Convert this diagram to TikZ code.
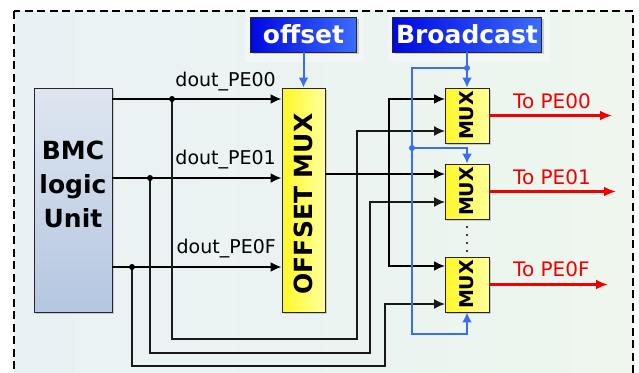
\documentclass[tikz,border=0pt]{standalone}
\usepackage{fontspec}
\setmainfont{DejaVu Sans}
\usetikzlibrary{arrows.meta,shadows}

\definecolor{bgleft}{HTML}{E9F1F5}
\definecolor{bgright}{HTML}{EEF6EE}
\definecolor{bmctop}{HTML}{DFE6F1}
\definecolor{bmcbot}{HTML}{B4C6E0}
\definecolor{muxyel}{HTML}{FFF826}
\definecolor{muxlight}{HTML}{FFFF9E}
\definecolor{tagdark}{HTML}{0008E0}
\definecolor{taglight}{HTML}{3B6CFF}
\definecolor{busblue}{HTML}{3A6DF0}
\definecolor{outred}{HTML}{F20000}

\tikzset{
  frame/.style={left color=bgleft, right color=bgright, draw=black,
    line width=1.5pt, dash pattern=on 8pt off 4.5pt},
  shade box/.style={draw=black!85, line width=0.9pt,
    drop shadow={shadow xshift=2pt, shadow yshift=-2pt, opacity=.35}},
  unitbox/.style={shade box, top color=bmctop, bottom color=bmcbot},
  muxbox/.style={shade box, left color=muxyel, right color=muxlight,
    font=\fontsize{19}{20}\selectfont\bfseries, inner sep=0pt},
  tagbox/.style={shade box, left color=tagdark, right color=taglight,
    text=white, font=\fontsize{25}{30}\selectfont\bfseries,
    minimum height=35pt, inner sep=0pt},
  bigtext/.style={font=\fontsize{25}{34}\selectfont\bfseries, inner sep=0pt},
  sig/.style={font=\fontsize{19}{22}\selectfont, inner sep=0pt},
  outlbl/.style={font=\fontsize{20}{22}\selectfont, text=outred, inner sep=0pt},
  wire/.style={line width=2pt, black, >={Latex[length=11pt,width=10pt]}},
  route/.style={line width=1.5pt, black!90, >={Latex[length=11pt,width=10pt]}},
  outwire/.style={line width=2.5pt, outred, >={Latex[length=12pt,width=10pt]}},
  busline/.style={line width=2pt, busblue, >={Latex[length=10pt,width=10pt]}}
}

\begin{document}
\begin{tikzpicture}[x=1pt, y=-1pt]
\clip (0,0) rectangle (639,372);
\fill[white] (0,0) rectangle (639,372);
\draw[frame] (14,11) rectangle (633,395);
\fill[white, opacity=.35] (245,13) rectangle (364,62);
\fill[white, opacity=.35] (388,13) rectangle (550,62);

% blocks
\node[unitbox, minimum width=78pt, minimum height=224pt,
  label={[bigtext, align=center, yshift=16pt]center:BMC\\logic\\Unit}] (bmc) at (73,200) {};
\node[muxbox, minimum width=43pt, minimum height=224pt,
  label={[bigtext, yshift=-4pt]center:\rotatebox{90}{OFFSET MUX}}] (omux) at (303.5,200) {};
\node[muxbox, minimum width=44pt, minimum height=55pt] (mux1) at (467,115.5) {\rotatebox{90}{MUX}};
\node[muxbox, minimum width=44pt, minimum height=55pt] (mux2) at (467,191.5) {\rotatebox{90}{MUX}};
\node[muxbox, minimum width=44pt, minimum height=55pt] (mux3) at (467,284.5) {\rotatebox{90}{MUX}};
\node[tagbox, minimum width=106pt] (off) at (303.5,34.5) {offset};
\node[tagbox, minimum width=149pt] (bc) at (467,34.5) {Broadcast};

% junctions and mux inputs
\coordinate (j0) at (172,99);
\coordinate (j1) at (150,178);
\coordinate (j2) at (132,267);
\coordinate (m1a) at (445,99);
\coordinate (m1b) at (445,131);
\coordinate (m2a) at (445,174);
\coordinate (m2b) at (445,202);
\coordinate (m3a) at (445,266);
\coordinate (m3b) at (445,304);
\coordinate (bus) at (389,174);
\coordinate (o1) at (612,115.5);
\coordinate (o2) at (616,191.5);
\coordinate (o3) at (608,284.5);
\coordinate (bj) at (467,68);
\coordinate (bk) at (412,148);

% dout lines
\draw[wire,->] (bmc.east |- j0) -- (omux.west |- j0);
\draw[wire,->] (bmc.east |- j1) -- (omux.west |- j1);
\draw[wire,->] (bmc.east |- j2) -- (omux.west |- j2);
\node[sig, anchor=base east] (d0) at (276,86) {dout\_PE00};
\node[sig, anchor=base east] (d1) at (276,164) {dout\_PE01};
\node[sig, anchor=base east] (d2) at (276,253) {dout\_PE0F};

% bypass routes
\draw[route,->] (j0) |- (357,339) |- (m1b);
\draw[route,->] (j1) |- (370,353) |- (m2b);
\draw[route,->] (j2) |- (385,366) |- (m3b);

% offset mux output
\draw[wire,->] (omux.east |- m2a) -- (m2a);
\draw[wire,<->] (m1a) -| (bus) |- (m3a);

% outputs
\draw[outwire,->] (mux1) -- (o1);
\draw[outwire,->] (mux2) -- (o2);
\draw[outwire,->] (mux3) -- (o3);
\node[outlbl, anchor=base west] (t0) at (513,108) {To PE00};
\node[outlbl, anchor=base west] (t1) at (513,184) {To PE01};
\node[outlbl, anchor=base west] (t2) at (513,276) {To PE0F};

% select lines
\draw[busline,->] (off) -- (omux);
\draw[busline,->] (bc) -- (mux1);
\draw[busline] (bj) -| (bk);
\draw[busline,->] (bk) -| (mux2);
\draw[busline,->] (bk) -- (412,334) -| (mux3);

\foreach \p in {j0,j1,j2} \fill (\p) circle (3pt);
\foreach \p in {bj,bk} \fill[busblue] (\p) circle (3pt);
\foreach \y in {227,235,243,251} \fill (467,\y) circle (1.1pt);
\end{tikzpicture}
\end{document}
